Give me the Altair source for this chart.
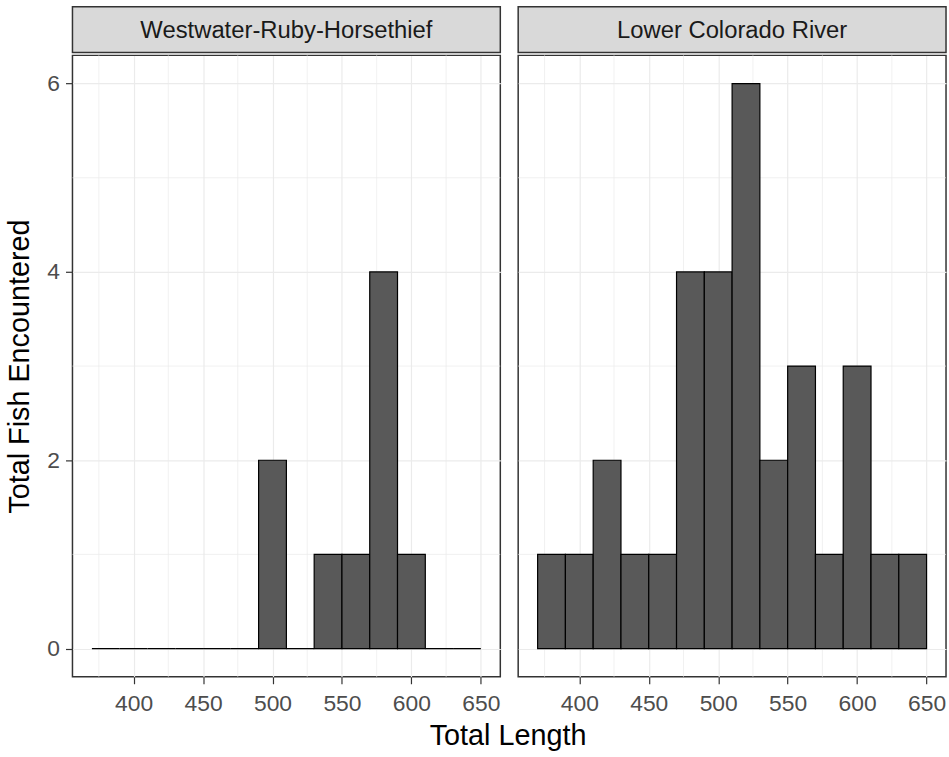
import altair as alt
import pandas as pd

# ---- data ----
bin_starts = [370, 390, 410, 430, 450, 470, 490, 510, 530, 550, 570, 590, 610, 630]
bin_width = 20
panels = ["Westwater-Ruby-Horsethief", "Lower Colorado River"]
counts_westwater = [0, 0, 0, 0, 0, 0, 2, 0, 1, 1, 4, 1, 0, 0]
counts_lower = [1, 1, 2, 1, 1, 4, 4, 6, 2, 3, 1, 3, 1, 1]
x_major = [400, 450, 500, 550, 600, 650]
x_minor = [375, 425, 475, 525, 575, 625]
y_major = [0, 2, 4, 6]
y_minor = [1, 3, 5]

FONT = "Liberation Sans"
W, H, STRIP_H = 431, 626, 46
TICK_FS, TITLE_FS, STRIP_FS = 23, 29, 24
x_scale = alt.Scale(domain=[356, 664], nice=False, zero=False)
y_scale = alt.Scale(domain=[-0.3, 6.3], nice=False, zero=False)


def panel(name, counts, show_y):
    df = pd.DataFrame({
        "start": bin_starts,
        "end": [s + bin_width for s in bin_starts],
        "count": counts,
    })
    x_axis = alt.Axis(values=x_major, grid=True, gridColor="#EBEBEB", gridWidth=1.2,
                      title=None, domain=False, tickColor="#333333", tickSize=7,
                      tickWidth=1.2, labelFontSize=TICK_FS, labelColor="#4D4D4D",
                      labelFont=FONT, labelPadding=9)
    if show_y:
        y_axis = alt.Axis(values=y_major, grid=True, gridColor="#EBEBEB", gridWidth=1.2,
                          title="Total Fish Encountered", titleFont=FONT, titleFontSize=TITLE_FS,
                          titleFontWeight="normal", titleColor="#000000", titlePadding=12,
                          domain=False, tickColor="#333333", tickSize=7, tickWidth=1.2,
                          labelFontSize=TICK_FS, labelColor="#4D4D4D", labelFont=FONT,
                          labelPadding=6)
    else:
        y_axis = alt.Axis(values=y_major, grid=True, gridColor="#EBEBEB", gridWidth=1.2,
                          title=None, domain=False, ticks=False, labels=False,
                          labelPadding=0, minExtent=0, maxExtent=0)

    vminor = alt.Chart(pd.DataFrame({"v": x_minor})).mark_rule(
        color="#EBEBEB", strokeWidth=0.7).encode(x=alt.X("v:Q", scale=x_scale, axis=x_axis))
    hminor = alt.Chart(pd.DataFrame({"v": y_minor})).mark_rule(
        color="#EBEBEB", strokeWidth=0.7).encode(y=alt.Y("v:Q", scale=y_scale, axis=y_axis))
    bars = alt.Chart(df).mark_rect(fill="#595959", stroke="#000000", strokeWidth=1.2).encode(
        x=alt.X("start:Q", scale=x_scale, axis=x_axis),
        x2="end:Q",
        y=alt.Y("count:Q", scale=y_scale, axis=y_axis),
        y2=alt.datum(0),
    )
    plot = alt.layer(vminor, hminor, bars).properties(
        width=W, height=H,
        view=alt.ViewBackground(fill="white", stroke="#333333", strokeWidth=1.5),
    )
    strip = alt.Chart(pd.DataFrame({"label": [name]})).mark_text(
        font=FONT, fontSize=STRIP_FS, color="#1A1A1A", align="center", baseline="middle"
    ).encode(
        text="label:N", x=alt.value(W / 2), y=alt.value(STRIP_H / 2 + 1)
    ).properties(
        width=W, height=STRIP_H,
        view=alt.ViewBackground(fill="#D9D9D9", stroke="#333333", strokeWidth=1.5),
    )
    return alt.vconcat(strip, plot, spacing=0)


chart = alt.hconcat(
    panel(panels[0], counts_westwater, True),
    panel(panels[1], counts_lower, False),
    spacing=14,
).properties(
    title=alt.TitleParams("Total Length", orient="bottom", anchor="middle", fontSize=TITLE_FS,
                          font=FONT, fontWeight="normal", color="#000000", dx=32, offset=6),
    padding={"left": 5, "top": 3, "right": 1, "bottom": 2},
).configure(background="white")

chart.save("out.html", embed_options={"renderer": "svg", "actions": False})
